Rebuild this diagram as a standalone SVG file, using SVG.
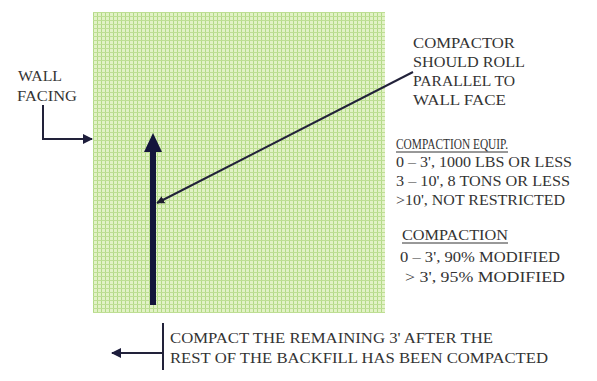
<svg xmlns="http://www.w3.org/2000/svg" width="597" height="381" viewBox="0 0 597 381">
<defs>
<pattern id="grid" width="4" height="4" patternUnits="userSpaceOnUse" x="93" y="12">
<rect width="4" height="4" fill="#e2f2c6"/>
<rect width="1" height="4" fill="#b2da86"/>
<rect width="4" height="1" fill="#bede94"/>
</pattern>
<marker id="ah" viewBox="0 0 10 10" refX="9" refY="5" markerWidth="10" markerHeight="10" markerUnits="userSpaceOnUse" orient="auto">
<path d="M0,0 L10,5 L0,10 z" fill="#1e1e3c"/>
</marker>
<marker id="ahs" viewBox="0 0 10 10" refX="9" refY="5" markerWidth="8" markerHeight="8" markerUnits="userSpaceOnUse" orient="auto">
<path d="M0,0 L10,5 L0,10 z" fill="#1e1e2e"/>
</marker>
</defs>
<style>
text{font-family:"Liberation Serif","Times New Roman",serif;font-size:14px;fill:#333333}
.ln{stroke:#22223a;stroke-width:2;fill:none}
</style>
<rect width="597" height="381" fill="#ffffff"/>
<g id="backfill">
<rect x="93" y="12" width="292" height="301" fill="url(#grid)"/>
</g>
<g id="roll-arrow">
<line x1="153" y1="305" x2="153" y2="150" stroke="#14143c" stroke-width="6"/>
<path d="M153,133 L162,152 L144,152 z" fill="#14143c"/>
</g>
<g id="wall-facing">
<text x="18" y="81" textLength="44" lengthAdjust="spacingAndGlyphs">WALL</text>
<text x="17" y="101" textLength="60" lengthAdjust="spacingAndGlyphs">FACING</text>
</g>
<g id="compactor-note">
<text x="413" y="48" textLength="102" lengthAdjust="spacingAndGlyphs">COMPACTOR</text>
<text x="413" y="67" textLength="112" lengthAdjust="spacingAndGlyphs">SHOULD ROLL</text>
<text x="413" y="86" textLength="102" lengthAdjust="spacingAndGlyphs">PARALLEL TO</text>
<text x="413" y="105" textLength="93" lengthAdjust="spacingAndGlyphs">WALL FACE</text>
</g>
<g id="equip-note">
<text x="396" y="149" textLength="112" lengthAdjust="spacingAndGlyphs">COMPACTION EQUIP.</text>
<line x1="396" y1="152" x2="508" y2="152" stroke="#333333" stroke-width="1"/>
<text x="396" y="167" textLength="176" lengthAdjust="spacingAndGlyphs">0 – 3', 1000 LBS OR LESS</text>
<text x="396" y="186" textLength="174" lengthAdjust="spacingAndGlyphs">3 – 10', 8 TONS OR LESS</text>
<text x="396" y="205" textLength="169" lengthAdjust="spacingAndGlyphs">&gt;10', NOT RESTRICTED</text>
</g>
<g id="compaction-note">
<text x="402" y="240" textLength="106" lengthAdjust="spacingAndGlyphs">COMPACTION</text>
<line x1="402" y1="243" x2="508" y2="243" stroke="#333333" stroke-width="1"/>
<text x="400" y="262" textLength="160" lengthAdjust="spacingAndGlyphs">0 – 3', 90% MODIFIED</text>
<text x="405" y="282" textLength="160" lengthAdjust="spacingAndGlyphs">&gt; 3', 95% MODIFIED</text>
</g>
<g id="final-note">
<text x="170" y="343" textLength="323" lengthAdjust="spacingAndGlyphs">COMPACT THE REMAINING 3' AFTER THE</text>
<text x="170" y="363" textLength="378" lengthAdjust="spacingAndGlyphs">REST OF THE BACKFILL HAS BEEN COMPACTED</text>
</g>
<g id="connectors">
<polyline class="ln" points="43,105 43,139 92,139" marker-end="url(#ah)"/>
<line class="ln" x1="413" y1="72" x2="157" y2="203" marker-end="url(#ahs)"/>
<line class="ln" x1="163" y1="323" x2="163" y2="370"/>
<line class="ln" x1="163" y1="353" x2="112" y2="353" marker-end="url(#ah)"/>
</g>
</svg>
